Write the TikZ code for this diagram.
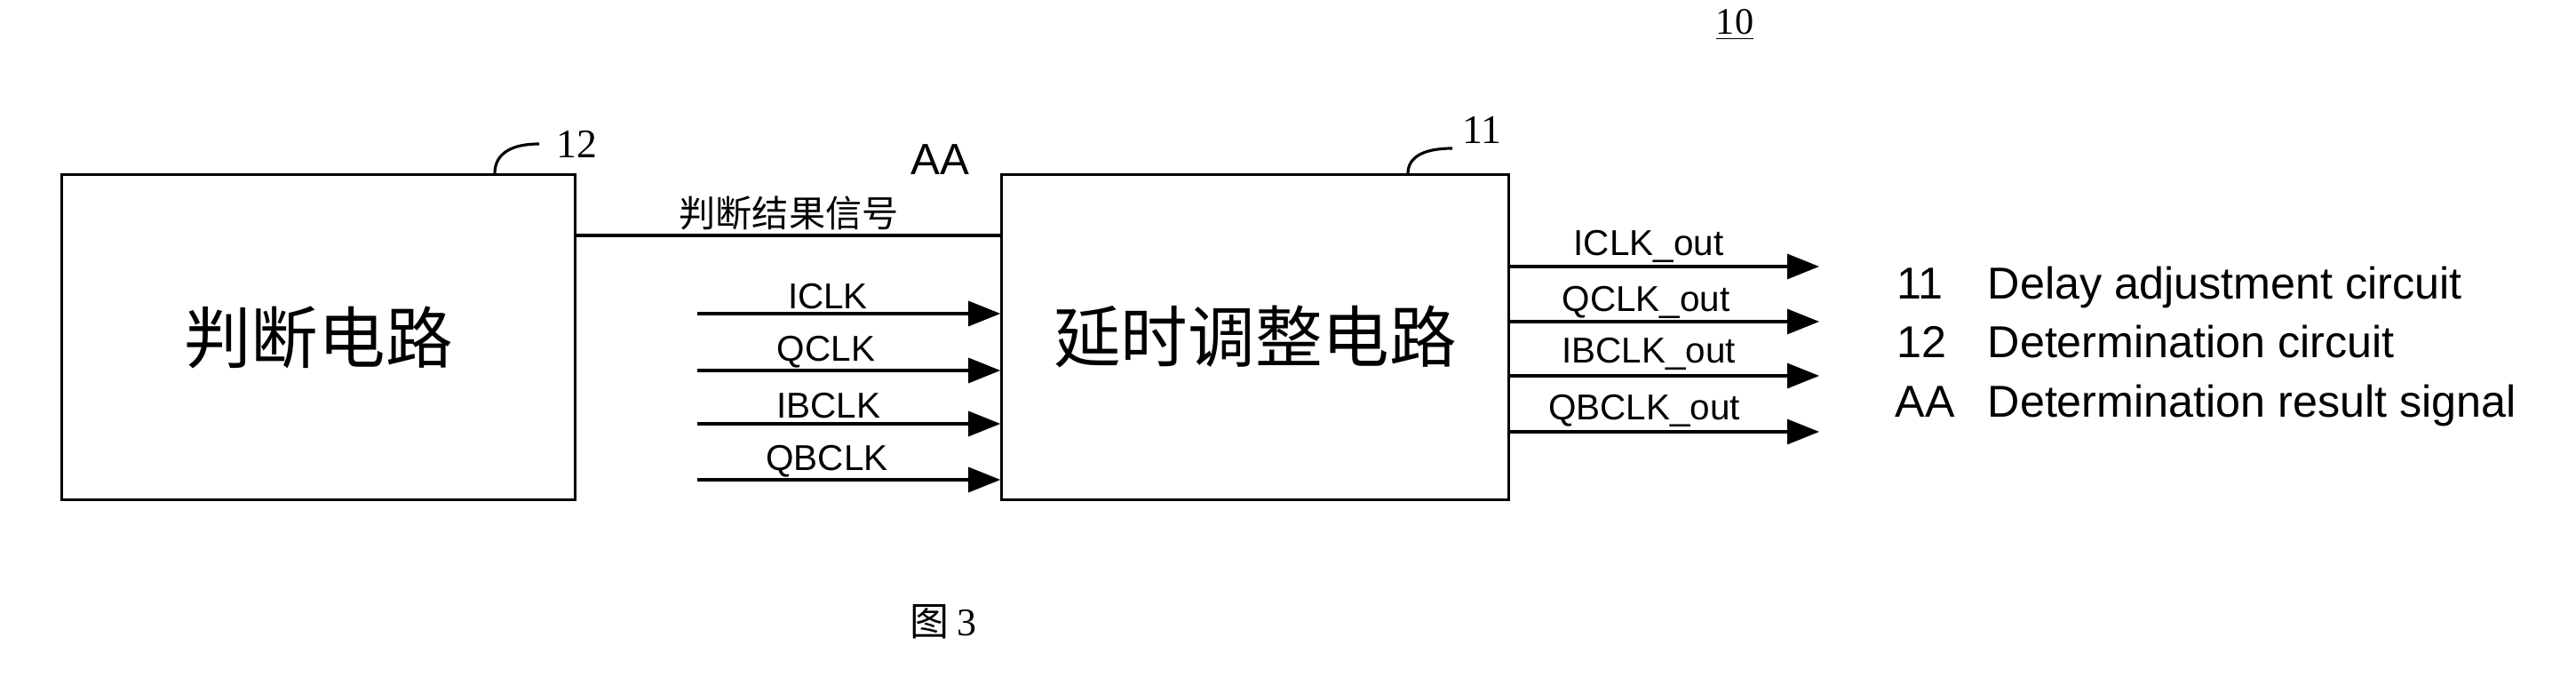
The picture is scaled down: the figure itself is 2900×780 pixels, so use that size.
\documentclass[tikz,border=0pt]{standalone}
\usepackage{fontspec}
\setmainfont{Liberation Sans}
\newfontfamily\cjk{Noto Sans CJK SC}
\newfontfamily\numfont{Liberation Serif}
\usetikzlibrary{arrows.meta}
\tikzset{
  blk box/.style={draw,line width=0.9pt,minimum height=3.65cm,inner sep=0pt,
    font=\cjk\fontsize{21.5}{24}\selectfont},
  sig line/.style={line width=0.9pt},
  sig arrow/.style={line width=0.9pt,-{Triangle[length=0.36cm,width=0.28cm]}},
  sig label/.style={font=\fontsize{11.5}{13}\selectfont,inner sep=0pt},
  ref num/.style={font=\numfont\fontsize{13}{15}\selectfont,inner sep=0pt},
  legend text/.style={font=\fontsize{14.3}{16}\selectfont,anchor=base west,inner sep=0pt}
}

\begin{document}
\begin{tikzpicture}[x=0.01cm,y=-0.01cm]
  \useasboundingbox (0,0) rectangle (2900,780);
  % blocks
  \node[blk box,minimum width=5.77cm] (det) at (358.5,379.5) {判断电路};
  \node[blk box,minimum width=5.70cm] (dly) at (1413,379.5) {延时调整电路};
  % result signal
  \coordinate (res) at (900,265);
  \draw[sig line] (det.east |- res) -- (dly.west |- res);
  \node[font=\cjk\fontsize{11.7}{13}\selectfont,inner sep=0pt] (res lbl) at (888,240) {判断结果信号};
  \node[font=\fontsize{14}{16}\selectfont,inner sep=0pt] (aa) at (1058,180) {AA};
  % clock inputs
  \coordinate (in1) at (785,353);
  \coordinate (in2) at (785,417);
  \coordinate (in3) at (785,477);
  \coordinate (in4) at (785,540);
  \draw[sig arrow] (in1) -- (dly.west |- in1);
  \draw[sig arrow] (in2) -- (dly.west |- in2);
  \draw[sig arrow] (in3) -- (dly.west |- in3);
  \draw[sig arrow] (in4) -- (dly.west |- in4);
  \node[sig label] (iclk) at (932,334) {ICLK};
  \node[sig label] (qclk) at (930,396) {QCLK};
  \node[sig label] (ibclk) at (933,457) {IBCLK};
  \node[sig label] (qbclk) at (931,519) {QBCLK};
  % clock outputs
  \coordinate (out1) at (2048,300);
  \coordinate (out2) at (2048,362);
  \coordinate (out3) at (2048,423);
  \coordinate (out4) at (2048,486);
  \draw[sig arrow] (dly.east |- out1) -- (out1);
  \draw[sig arrow] (dly.east |- out2) -- (out2);
  \draw[sig arrow] (dly.east |- out3) -- (out3);
  \draw[sig arrow] (dly.east |- out4) -- (out4);
  \node[sig label] (iclko) at (1856,277) {ICLK\_out};
  \node[sig label] (qclko) at (1853,340) {QCLK\_out};
  \node[sig label] (ibclko) at (1856,398) {IBCLK\_out};
  \node[sig label] (qbclko) at (1851,462) {QBCLK\_out};
  % reference numerals
  \node[ref num] (n12) at (649,162) {12};
  \node[ref num] (n11) at (1668,146) {11};
  \coordinate (l12) at (607,162);
  \coordinate (l11) at (1635,167);
  \draw[line width=0.9pt] (det.north -| 557,0) .. controls (557,172) and (577,162) .. (l12);
  \draw[line width=0.9pt] (dly.north -| 1585,0) .. controls (1585,176) and (1604,167) .. (l11);
  \node[font=\numfont\fontsize{12}{14}\selectfont,inner sep=0pt] (fig num) at (1953,28) {\underline{10}};
  % legend
  \node[legend text] (k11) at (2135,337) {11};
  \node[legend text] (t11) at (2237,337) {Delay adjustment circuit};
  \node[legend text] (k12) at (2135,403) {12};
  \node[legend text] (t12) at (2237,403) {Determination circuit};
  \node[legend text] (kaa) at (2133,470) {AA};
  \node[legend text] (taa) at (2237,470) {Determination result signal};
  % caption
  \node[font=\cjk\fontsize{12.5}{14}\selectfont,inner sep=0pt] (cap) at (1062,700) {图 {\numfont 3}};
\end{tikzpicture}
\end{document}
